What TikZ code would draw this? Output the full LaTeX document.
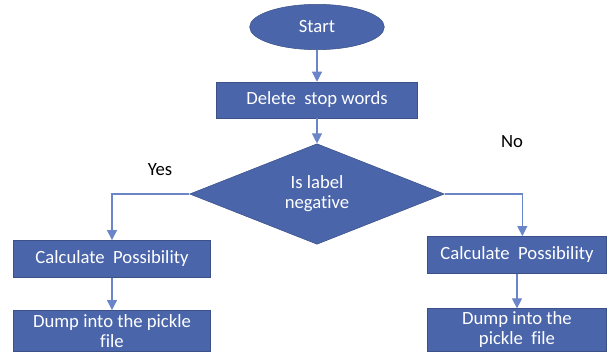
\documentclass[tikz,border=0pt]{standalone}
\usepackage{fontspec}
\setmainfont{Carlito}[Ligatures=NoCommon]
\usetikzlibrary{shapes.geometric,arrows.meta}
\definecolor{boxblue}{HTML}{4A65AA}
\definecolor{lineblue}{HTML}{6A86C8}
\begin{document}
\begin{tikzpicture}[x=0.75pt,y=-0.75pt,
	flowbox/.style={fill=boxblue, draw=boxblue!80!black, text=white, inner sep=1pt, align=center, font=\fontsize{14}{15}\selectfont},
	flowline/.style={draw=lineblue, thick, -{Triangle[width=7.5pt,length=7.5pt]}}]
	\useasboundingbox (0,0) rectangle (611,354);
	\draw (317,27) node[flowbox, ellipse, minimum width=101pt, minimum height=34pt](start) {Start};
	\draw (317,100) node[flowbox, minimum width=151pt, minimum height=27pt](del) {Delete\ \ stop words};
	\draw (317,194) node[flowbox, diamond, minimum width=191pt, minimum height=66pt, inner sep=0pt](dia) {Is label\\negative};
	\draw (112,259) node[flowbox, minimum width=148pt, minimum height=28pt](lcalc) {Calculate\ \ Possibility};
	\draw (112,331) node[flowbox, minimum width=148pt, minimum height=31pt](ldump) {Dump into the pickle\\file};
	\draw (517,255) node[flowbox, minimum width=134pt, minimum height=28pt](rcalc) {Calculate\ \ Possibility};
	\draw (517,330) node[flowbox, minimum width=134pt, minimum height=32pt](rdump) {Dump into the\\pickle\ \ file};
	\draw (160,170) node[font=\fontsize{14}{15}\selectfont](yes) {Yes};
	\draw (512,142) node[font=\fontsize{14}{15}\selectfont](no) {No};
	\draw[flowline] (start) -- (del);
	\draw[flowline] (del) -- (dia);
	\draw[flowline] (dia.west) -| (lcalc.north);
	\draw[flowline] (dia.east) -| ([xshift=4pt]rcalc.north);
	\draw[flowline] (lcalc) -- (ldump);
	\draw[flowline] (rcalc) -- (rdump);
\end{tikzpicture}
\end{document}
